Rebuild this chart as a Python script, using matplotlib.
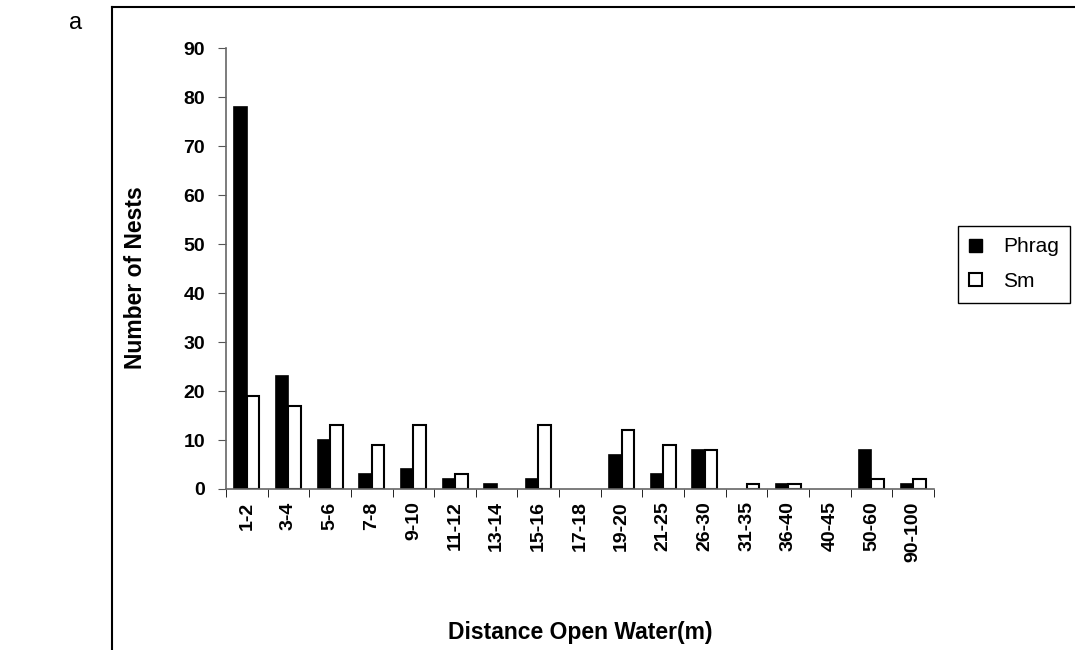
import numpy as np
import matplotlib.pyplot as plt
from matplotlib.lines import Line2D
from matplotlib.patches import Patch

plt.rcParams["font.family"] = ["Liberation Sans", "DejaVu Sans"]

categories = ["1-2", "3-4", "5-6", "7-8", "9-10", "11-12", "13-14", "15-16", "17-18",
              "19-20", "21-25", "26-30", "31-35", "36-40", "40-45", "50-60", "90-100"]
phrag = [78, 23, 10, 3, 4, 2, 1, 2, 0, 7, 3, 8, 0, 1, 0, 8, 1]
sm = [19, 17, 13, 9, 13, 3, 0, 13, 0, 12, 9, 8, 1, 1, 0, 2, 2]

fig = plt.figure(figsize=(10.75, 6.5), dpi=100)
ax = fig.add_axes([0.2102, 0.2477, 0.6586, 0.6783])

x = np.arange(len(categories))
w = 0.3
ph = np.array(phrag)
s = np.array(sm)
# zero counts get no bar at all (as in the original)
ax.bar(x[ph > 0] - w / 2, ph[ph > 0], w, color="black", edgecolor="black", linewidth=1.2)
ax.bar(x[s > 0] + w / 2, s[s > 0], w, color="white", edgecolor="black", linewidth=1.5)

ax.set_xlim(-0.5, len(categories) - 0.5)
ax.set_ylim(0, 90)
ax.set_yticks(range(0, 91, 10))
ax.set_xticks(x)
ax.set_xticklabels(categories, rotation=90, fontsize=14, fontweight="bold")
ax.tick_params(axis="x", length=0, pad=9)
ax.set_xticks(np.arange(-0.5, len(categories), 1), minor=True)
ax.tick_params(axis="x", which="minor", length=6, color="black", direction="out")
ax.tick_params(axis="y", labelsize=14, length=6, direction="out", color="#555555", pad=9)
for lab in ax.get_yticklabels():
    lab.set_fontweight("bold")

for sp in ["top", "right"]:
    ax.spines[sp].set_visible(False)
ax.spines["left"].set_color("#666666")
ax.spines["bottom"].set_color("#666666")
ax.spines["left"].set_linewidth(1.2)
ax.spines["bottom"].set_linewidth(1.2)

fig.text(136 / 1075, 1 - 278 / 650, "Number of Nests", fontsize=16.5, fontweight="bold",
         rotation=90, ha="center", va="center")
fig.text(580 / 1075, 1 - 632 / 650, "Distance Open Water(m)", fontsize=16.5,
         fontweight="bold", ha="center", va="center")
fig.text(0.07, 0.965, "a", fontsize=17, ha="center", va="center")

# outer frame, cut off by the image edge
fig.add_artist(Line2D([0.104, 0.104], [0, 0.989], color="black", lw=1.5))
fig.add_artist(Line2D([0.104, 1.0], [0.989, 0.989], color="black", lw=1.5))

handles = [Patch(facecolor="black", edgecolor="black"),
           Patch(facecolor="white", edgecolor="black", linewidth=1.5)]
fig.legend(handles, ["Phrag", "Sm"], loc="upper left",
           bbox_to_anchor=(958 / 1075, 1 - 226 / 650), fontsize=15,
           frameon=True, fancybox=False, edgecolor="black", framealpha=1,
           handlelength=0.6, handleheight=0.6, handletextpad=1.0,
           borderpad=0.55, labelspacing=0.75, borderaxespad=0)

fig.savefig("out.png", dpi=100)
